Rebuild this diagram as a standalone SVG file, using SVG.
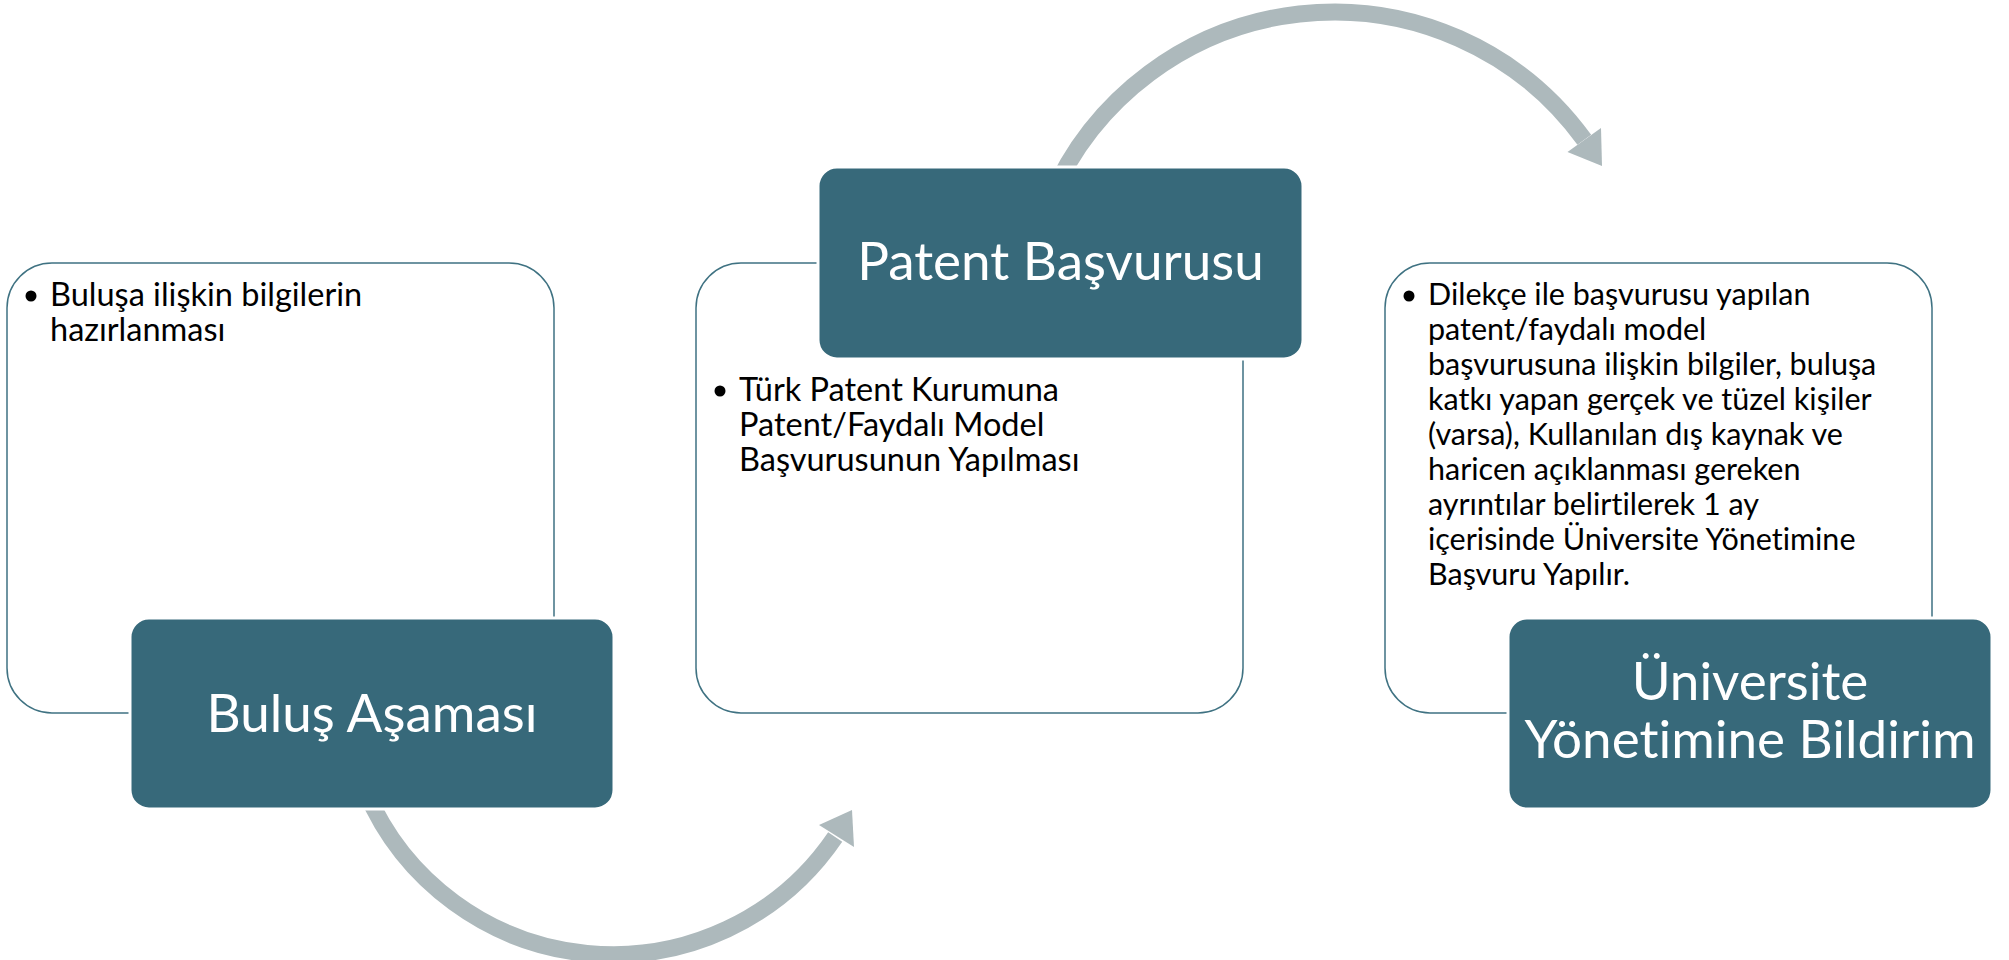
<svg xmlns="http://www.w3.org/2000/svg" width="2009" height="960" viewBox="0 0 2009 960">
  <style>
    .panel { fill: #ffffff; stroke: #3f7282; stroke-width: 1.5; }
    .head { fill: #37697a; stroke: #ffffff; stroke-width: 3; }
    text { font-family: Lato, "Open Sans", sans-serif; font-variant-ligatures: none; }
    .title { font-size: 53px; fill: #ffffff; text-anchor: middle; }
    .body { fill: #000000; }
    .b1 { font-size: 32.5px; }
    .b2 { font-size: 32.5px; }
    .b3 { font-size: 30.5px; }
    .bullet { fill: #000000; }
    .arc { fill: none; stroke: #adb9bc; stroke-width: 17; }
    .tip { fill: #adb9bc; }
  </style>
  <rect width="2009" height="960" fill="#ffffff"/>
  <g id="connectors">
    <path class="arc" d="M 365.7 791 A 268.7 268.7 0 0 0 835.2 837"/>
    <polygon class="tip" points="819,825 852,810 854,847"/>
    <path class="arc" d="M 1049.6 200.3 A 309 309 0 0 1 1584.3 139.8"/>
    <polygon class="tip" points="1567.5,152 1602,166 1601,128"/>
  </g>
  <g id="stage1">
    <rect class="panel" x="7" y="263" width="547" height="450" rx="45" ry="45"/>
    <circle class="bullet" cx="31" cy="296" r="5.5"/>
    <text class="body b1" x="50" y="306">Buluşa ilişkin bilgilerin</text>
    <text class="body b1" x="50" y="341">hazırlanması</text>
    <rect class="head" x="130" y="618" width="484" height="191" rx="19" ry="19"/>
    <text class="title" x="372" y="732">Buluş Aşaması</text>
  </g>
  <g id="stage2">
    <rect class="panel" x="696" y="263" width="547" height="450" rx="45" ry="45"/>
    <circle class="bullet" cx="720" cy="391" r="5.5"/>
    <text class="body b2" x="739" y="401">Türk Patent Kurumuna</text>
    <text class="body b2" x="739" y="436">Patent/Faydalı Model</text>
    <text class="body b2" x="739" y="471">Başvurusunun Yapılması</text>
    <rect class="head" x="818" y="167" width="485" height="192" rx="19" ry="19"/>
    <text class="title" x="1060.5" y="280">Patent Başvurusu</text>
  </g>
  <g id="stage3">
    <rect class="panel" x="1385" y="263" width="547" height="450" rx="45" ry="45"/>
    <circle class="bullet" cx="1409" cy="296" r="5.5"/>
    <text class="body b3" x="1428" y="305">Dilekçe ile başvurusu yapılan</text>
    <text class="body b3" x="1428" y="340">patent/faydalı model</text>
    <text class="body b3" x="1428" y="375">başvurusuna ilişkin bilgiler, buluşa</text>
    <text class="body b3" x="1428" y="410">katkı yapan gerçek ve tüzel kişiler</text>
    <text class="body b3" x="1428" y="445">(varsa), Kullanılan dış kaynak ve</text>
    <text class="body b3" x="1428" y="480">haricen açıklanması gereken</text>
    <text class="body b3" x="1428" y="515">ayrıntılar belirtilerek 1 ay</text>
    <text class="body b3" x="1428" y="550">içerisinde Üniversite Yönetimine</text>
    <text class="body b3" x="1428" y="585">Başvuru Yapılır.</text>
    <rect class="head" x="1508" y="618" width="484" height="191" rx="19" ry="19"/>
    <text class="title" x="1750" y="700">Üniversite</text>
    <text class="title" x="1750" y="758">Yönetimine Bildirim</text>
  </g>
</svg>
